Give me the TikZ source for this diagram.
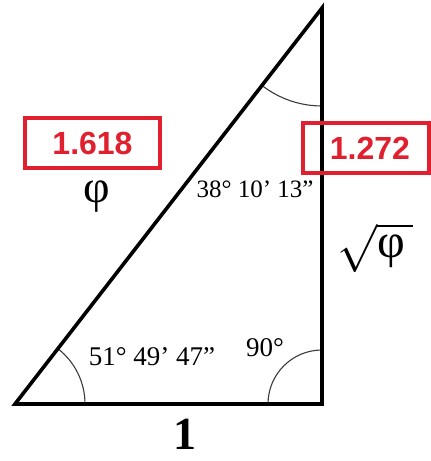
\documentclass[tikz,border=0pt]{standalone}
\usepackage{fontspec}
\setmainfont{Liberation Serif}
\newfontfamily\boxfont{Liberation Sans}
\definecolor{goldred}{HTML}{E0202E}
\definecolor{arcgray}{HTML}{3A3A3A}

\begin{document}
\begin{tikzpicture}[
      x=1pt,y=1pt,
      edge/.style={line width=3.6pt,draw=black},
      anglearc/.style={line width=1.1pt,draw=arcgray},
      valuebox/.style={
        draw=goldred,
        line width=3.4pt,
        text=goldred,
        inner sep=0pt,
        minimum height=50pt,
        font=\boxfont\fontsize{32}{36}\selectfont\bfseries
      },
      anglelbl/.style={anchor=base,font=\fontsize{25}{28}\selectfont}
    ]
    \useasboundingbox (0,0) rectangle (431,461);
    \coordinate (A) at (15,57);
    \coordinate (B) at (322,57);
    \coordinate (C) at (322,453);
    % angle arcs
    \draw[anglearc] (A) ++(70,0) arc[start angle=0,end angle=52.2,radius=70];
    \draw[anglearc] (B) ++(0,54) arc[start angle=90,end angle=180,radius=54];
    \draw[anglearc] (C) ++(232.2:98) arc[start angle=232.2,end angle=270,radius=98];
    % triangle
    \draw[edge] (A) -- (B) -- (C) -- cycle;
    % labels
    \node[anglelbl] (top) at (255,263) {38° 10’ 13”};
    \node[anglelbl,font=\fontsize{27}{30}\selectfont] (left) at (152,95) {51° 49’ 47”};
    \node[anglelbl,font=\fontsize{27}{30}\selectfont] (right) at (265,104) {90°};
    \node[anchor=base,inner sep=0pt,font=\fontsize{46}{50}\selectfont\bfseries] (base) at (185,11) {1};
    \node[font=\fontsize{46}{50}\selectfont] (phi) at (97,264) {φ};
    \node[inner sep=0pt] (root) at (375,213) {\scalebox{4.8}{$\sqrt{\hbox{φ}\,}$}};
    \node[valuebox,minimum width=135pt] (hyp) at (92.5,318) {1.618};
    \node[valuebox,minimum width=126pt,text width=88pt,align=right] (leg) at (366,313) {1.272};
  \end{tikzpicture}
\end{document}
